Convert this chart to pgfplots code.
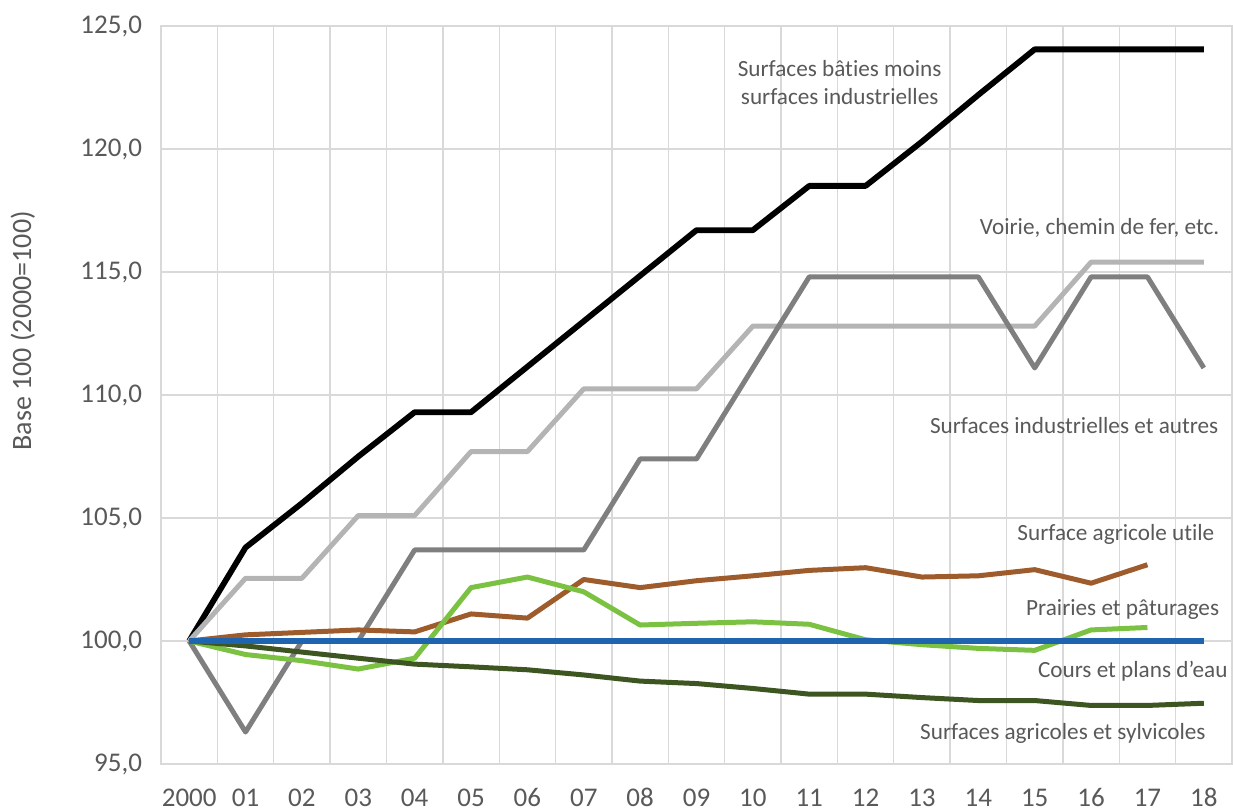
\documentclass[border=0pt]{standalone}
\usepackage{pgfplots}
\pgfplotsset{compat=1.18}
\usepackage{fontspec}
\setmainfont{Carlito}[Ligatures={NoCommon}]
\definecolor{txt}{HTML}{595959}
\definecolor{gridc}{HTML}{D9D9D9}
\definecolor{lgray}{HTML}{B4B4B4}
\definecolor{dgray}{HTML}{7F7F7F}
\definecolor{brownc}{HTML}{9E5B2B}
\definecolor{lgreen}{HTML}{7CC242}
\definecolor{dgreen}{HTML}{3D5520}
\definecolor{bluec}{HTML}{1F64AF}
\tikzset{label node/.style={font=\fontsize{11.6}{14}\selectfont, text=txt, align=center}}
\begin{document}
\begin{tikzpicture}
\begin{axis}[
  scale only axis,
  width=535.5pt, height=369pt,
  xmin=-0.5, xmax=18.5, ymin=95, ymax=125,
  xtick={0,...,18},
  xticklabels={2000,01,02,03,04,05,06,07,08,09,10,11,12,13,14,15,16,17,18},
  minor xtick={-0.5,0.5,...,18.5},
  ytick={95,100,...,125},
  xminorgrids=true, ymajorgrids=true, xmajorgrids=false,
  grid style={gridc, line width=0.7pt},
  minor grid style={gridc, line width=0.7pt},
  major tick length=0pt, minor tick length=0pt,
  axis line style={gridc, line width=0.7pt},
  tick label style={font=\fontsize{13.5}{15}\selectfont, text=txt},
  /pgf/number format/fixed,
  /pgf/number format/fixed zerofill,
  /pgf/number format/precision=1,
  /pgf/number format/use comma,
  /pgf/number format/assume math mode=true,
  ytick style={draw=none}, xtick style={draw=none},
  yticklabel style={xshift=-6pt},
  xticklabel style={anchor=base, yshift=-21pt},
  ylabel={Base 100 (2000=100)},
  ylabel style={at={(axis description cs:-0.1289,0.587)}, anchor=center, font=\fontsize{14}{16}\selectfont, text=txt},
  clip=false,
  every axis plot/.append style={line width=2.5pt, line join=round, mark=none},
]
% Surfaces baties moins surfaces industrielles
\addplot[black, line width=2.9pt] coordinates {(0,100) (1,103.8) (2,105.6) (3,107.5) (4,109.3) (5,109.3) (6,111.15) (7,113.0) (8,114.85) (9,116.7) (10,116.7) (11,118.5) (12,118.5) (13,120.3) (14,122.2) (15,124.05) (16,124.05) (17,124.05) (18,124.05)};
% Voirie
\addplot[lgray] coordinates {(0,100) (1,102.55) (2,102.55) (3,105.1) (4,105.1) (5,107.7) (6,107.7) (7,110.25) (8,110.25) (9,110.25) (10,112.8) (11,112.8) (12,112.8) (13,112.8) (14,112.8) (15,112.8) (16,115.4) (17,115.4) (18,115.4)};
% Surfaces industrielles et autres
\addplot[dgray] coordinates {(0,100) (1,96.3) (2,100) (3,100) (4,103.7) (5,103.7) (6,103.7) (7,103.7) (8,107.4) (9,107.4) (10,111.1) (11,114.8) (12,114.8) (13,114.8) (14,114.8) (15,111.1) (16,114.8) (17,114.8) (18,111.1)};
% Surface agricole utile
\addplot[brownc] coordinates {(0,100) (1,100.25) (2,100.35) (3,100.45) (4,100.37) (5,101.1) (6,100.93) (7,102.5) (8,102.17) (9,102.45) (10,102.65) (11,102.87) (12,102.98) (13,102.6) (14,102.65) (15,102.9) (16,102.35) (17,103.1)};
% Prairies et paturages
\addplot[lgreen] coordinates {(0,100) (1,99.45) (2,99.2) (3,98.86) (4,99.3) (5,102.17) (6,102.6) (7,102.0) (8,100.65) (9,100.72) (10,100.78) (11,100.68) (12,100.05) (13,99.85) (14,99.7) (15,99.62) (16,100.45) (17,100.55)};
% Surfaces agricoles et sylvicoles
\addplot[dgreen] coordinates {(0,100) (1,99.8) (2,99.55) (3,99.3) (4,99.06) (5,98.95) (6,98.83) (7,98.62) (8,98.37) (9,98.27) (10,98.07) (11,97.84) (12,97.84) (13,97.7) (14,97.58) (15,97.58) (16,97.38) (17,97.38) (18,97.47)};
% Cours et plans d'eau
\addplot[bluec, line width=2.9pt] coordinates {(0,100) (1,100) (2,100) (3,100) (4,100) (5,100) (6,100) (7,100) (8,100) (9,100) (10,100) (11,100) (12,100) (13,100) (14,100) (15,100) (16,100) (17,100) (18,100)};
\node[label node] at (axis cs:11.54,122.7) {Surfaces bâties moins\\surfaces industrielles};
\node[label node] at (axis cs:16.15,116.8) {Voirie, chemin de fer, etc.};
\node[label node] at (axis cs:15.7,108.75) {Surfaces industrielles et autres};
\node[label node] at (axis cs:16.44,104.35) {Surface agricole utile};
\node[label node] at (axis cs:16.56,101.3) {Prairies et pâturages};
\node[label node] at (axis cs:16.74,98.78) {Cours et plans d'eau};
\node[label node] at (axis cs:15.5,96.26) {Surfaces agricoles et sylvicoles};
\end{axis}
\pgfresetboundingbox
\path[use as bounding box] ([xshift=-80.5pt,yshift=-23pt]current axis.south west) rectangle ([xshift=0.5pt,yshift=13pt]current axis.north east);
\end{tikzpicture}
\end{document}
